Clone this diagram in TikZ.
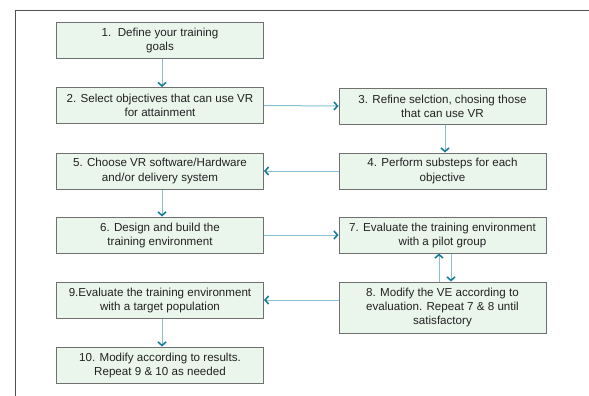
\documentclass[tikz,border=0pt]{standalone}
\usepackage{fontspec}
\setmainfont{Liberation Sans}
\usetikzlibrary{arrows.meta,calc}
\definecolor{boxfill}{HTML}{EAF5EC}
\definecolor{boxline}{HTML}{707070}
\definecolor{linec}{HTML}{86C0D2}
\definecolor{tipc}{HTML}{1A7C98}
\definecolor{framec}{HTML}{505050}
\definecolor{textc}{HTML}{222222}
\begin{document}
\begin{tikzpicture}[x=1pt,y=-1pt,
  stepbox/.style={draw=boxline, fill=boxfill, line width=1pt, rectangle,
    minimum width=207pt, minimum height=36pt, inner sep=1pt, align=center,
    text=textc, font=\fontsize{11.6}{14}\selectfont},
  conn/.style={draw=linec, line width=1pt,
    -{Straight Barb[length=3.5pt, width=8pt, line width=1.6pt, color=tipc]}}]
\useasboundingbox (0,0) rectangle (589,396);
\draw[framec, line width=1pt] (15,396) -- (15,11) -- (589,11);

\node[stepbox] (s1) at (160,41) {1.\ \ Define your training\\goals};
\node[stepbox] (s2) at (160,105.5) {2. Select objectives that can use VR\\for attainment};
\node[stepbox] (s5) at (160,171) {5. Choose VR software/Hardware\\and/or delivery system};
\node[stepbox] (s6) at (160,235) {6. Design and build the\\training environment};
\node[stepbox] (s9) at (160,300.5) {9.Evaluate the training environment\\with a target population};
\node[stepbox] (s10) at (160,365) {10. Modify according to results.\\Repeat 9 \& 10 as needed};

\node[stepbox] (s3) at (442.5,106) {3. Refine selction, chosing those\\that can use VR};
\node[stepbox] (s4) at (442.5,171) {4. Perform substeps for each\\objective};
\node[stepbox] (s7) at (442.5,235) {7. Evaluate the training environment\\with a pilot group};
\node[stepbox, minimum height=51pt] (s8) at (442.5,307.5) {8. Modify the VE according to\\evaluation. Repeat 7 \& 8 until\\satisfactory};

\draw[conn] (s1.south -| 162,0) -- (s2.north -| 162,0);
\draw[conn] (s2.east) -- (s3.west);
\draw[conn] (s3.south -| 445,0) -- (s4.north -| 445,0);
\draw[conn] (s4.west) -- (s5.east);
\draw[conn] (s5.south -| 162,0) -- (s6.north -| 162,0);
\draw[conn] (s6.east) -- (s7.west);
\draw[conn] (s7.south -| 451,0) -- (s8.north -| 451,0);
\draw[conn] (s8.north -| 439,0) -- (s7.south -| 439,0);
\draw[conn] (s8.west |- 0,300) -- (s9.east |- 0,300);
\draw[conn] (s9.south -| 162,0) -- (s10.north -| 162,0);
\end{tikzpicture}
\end{document}
